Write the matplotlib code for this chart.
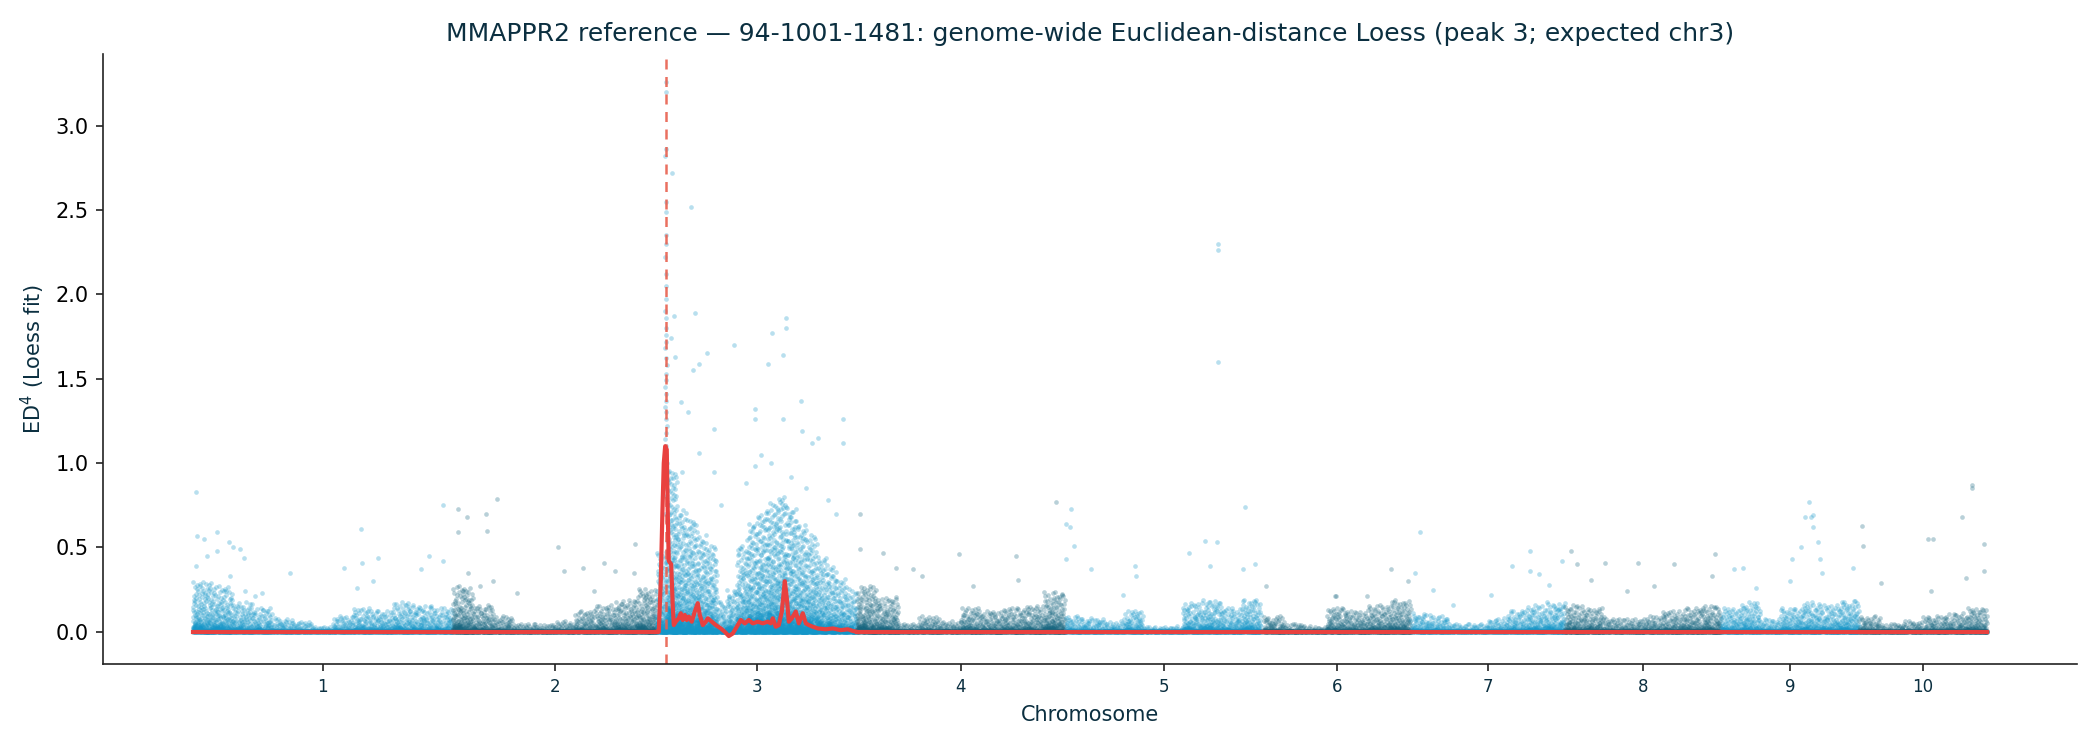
import numpy as np
import matplotlib
matplotlib.use("Agg")
import matplotlib.pyplot as plt

# ---------------- data ----------------
chrom_labels = ["1", "2", "3", "4", "5", "6", "7", "8", "9", "10"]
chrom_len_mb = [65.0, 51.0, 50.0, 52.0, 49.5, 37.0, 38.5, 39.0, 34.5, 32.0]
chrom_data_end_mb = [65.0, 51.0, 50.0, 52.0, 49.0, 37.0, 38.5, 39.0, 34.5, 32.0]

# upper edge of the dense SNP band, per equal-width bin along each chromosome
band_chr1 = [0.19, 0.17, 0.11, 0.09, 0.05, 0.04, 0.02, 0.06, 0.09, 0.08, 0.11, 0.10, 0.09]
band_chr2 = [0.17, 0.10, 0.06, 0.03, 0.03, 0.04, 0.08, 0.10, 0.12, 0.16]
band_chr3 = [0.30, 0.60, 0.45, 0.42, 0.36, 0.32, 0.12, 0.16, 0.32, 0.40,
             0.44, 0.48, 0.50, 0.46, 0.40, 0.36, 0.28, 0.24, 0.20, 0.16]
band_chr4 = [0.17, 0.13, 0.03, 0.06, 0.04, 0.09, 0.08, 0.09, 0.10, 0.15]
band_chr5 = [0.06, 0.05, 0.04, 0.08, 0.02, 0.02, 0.11, 0.12, 0.09, 0.12]
band_chr6 = [0.06, 0.03, 0.02, 0.09, 0.08, 0.10, 0.12]
band_chr7 = [0.07, 0.06, 0.03, 0.03, 0.05, 0.08, 0.10, 0.11]
band_chr8 = [0.10, 0.09, 0.05, 0.05, 0.06, 0.08, 0.09, 0.10]
band_chr9 = [0.09, 0.11, 0.05, 0.09, 0.11, 0.10, 0.12]
band_chr10 = [0.06, 0.03, 0.04, 0.06, 0.07, 0.09]

# tall column of SNPs at the chr3 peak (position in Mb on chr3, ED^4)
peak_col_pos = [2.2, 2.3, 2.25, 2.15, 2.3, 2.2, 2.35, 2.25, 2.1, 2.3,
                2.2, 2.4, 2.15, 2.3, 2.25, 2.35, 2.2, 2.1, 2.3, 2.45,
                2.2, 2.3, 2.15, 2.4, 2.25, 2.05, 2.35, 2.2, 2.5, 2.3,
                2.1, 2.4, 2.25, 2.6, 2.2, 2.45, 2.0, 2.35, 2.7, 2.15]
peak_col_ed = [3.26, 3.20, 2.86, 2.82, 2.55, 2.49, 2.35, 2.30, 2.22, 2.12,
               2.05, 1.97, 1.90, 1.86, 1.80, 1.76, 1.72, 1.68, 1.62, 1.58,
               1.53, 1.49, 1.45, 1.41, 1.37, 1.33, 1.30, 1.26, 1.22, 1.18,
               1.14, 1.10, 1.05, 1.00, 0.95, 0.90, 0.85, 0.80, 0.75, 0.70]

# isolated SNPs above the dense band
outlier_chrom = ([1] * 26 + [2] * 19 + [3] * 39 + [4] * 11 + [5] * 19 + [6] * 6
                 + [7] * 11 + [8] * 10 + [9] * 15 + [10] * 12)
outlier_pos = [
    # chr1
    0.9, 1.0, 2.9, 6.0, 6.0, 3.5, 9.0, 10.2, 11.75, 12.75, 0.75, 9.4, 13.0,
    15.5, 17.4, 24.25, 42.0, 37.75, 42.4, 46.25, 45.0, 41.2, 57.1, 59.0, 62.5, 62.5,
    # chr2
    1.25, 1.25, 3.5, 8.25, 11.0, 8.5, 3.75, 6.75, 10.0, 16.1, 26.4, 27.75, 32.5,
    35.25, 37.75, 40.5, 45.5, 45.4, 48.4,
    # chr3
    3.75, 8.5, 9.5, 4.25, 3.5, 4.5, 12.5, 10.5, 9.0, 19.25, 32.25, 32.25, 28.75,
    31.5, 27.75, 6.0, 7.75, 14.25, 24.5, 24.5, 31.5, 36.0, 46.5, 46.5, 36.25,
    38.75, 40.25, 24.5, 26.0, 10.5, 14.25, 42.75, 6.25, 22.25, 33.5, 37.25, 28.5,
    16.0, 44.75,
    # chr4
    0.75, 0.75, 6.5, 9.75, 14.0, 16.25, 25.5, 29.0, 39.75, 40.25, 49.75,
    # chr5
    0.25, 1.25, 1.5, 2.25, 0.25, 6.5, 14.5, 17.5, 17.75, 31.0, 35.0, 38.0, 36.25,
    38.25, 38.25, 38.25, 45.0, 44.5, 47.5,
    # chr6
    0.75, 18.0, 18.25, 26.0, 32.0, 36.25,
    # chr7
    1.0, 2.25, 5.5, 10.5, 20.0, 25.25, 29.75, 29.75, 32.0, 34.5, 37.75,
    # chr8
    1.5, 3.0, 6.5, 10.0, 15.5, 18.25, 22.25, 27.25, 36.75, 37.5,
    # chr9
    3.25, 5.5, 8.75, 17.25, 17.75, 20.0, 21.0, 22.0, 22.5, 23.0, 23.0, 24.25,
    24.75, 25.25, 33.0,
    # chr10
    0.75, 1.0, 5.5, 17.25, 18.5, 18.0, 25.75, 26.75, 28.25, 28.25, 31.25, 31.25,
]
outlier_ed = [
    # chr1
    0.83, 0.57, 0.55, 0.59, 0.48, 0.45, 0.53, 0.50, 0.49, 0.44, 0.39, 0.33, 0.24,
    0.21, 0.23, 0.35, 0.61, 0.38, 0.41, 0.44, 0.30, 0.26, 0.37, 0.45, 0.75, 0.42,
    # chr2
    0.73, 0.59, 0.68, 0.70, 0.79, 0.60, 0.35, 0.27, 0.30, 0.23, 0.50, 0.36, 0.38,
    0.24, 0.41, 0.36, 0.52, 0.35, 0.21,
    # chr3
    2.72, 2.52, 1.89, 1.87, 1.74, 1.63, 1.65, 1.59, 1.55, 1.70, 1.86, 1.80, 1.77,
    1.64, 1.59, 1.36, 1.30, 1.20, 1.32, 1.26, 1.26, 1.37, 1.26, 1.12, 1.19,
    1.12, 1.15, 0.98, 1.05, 1.06, 0.95, 0.78, 0.95, 0.88, 0.92, 0.85, 1.00,
    0.75, 0.70,
    # chr4
    0.70, 0.49, 0.47, 0.38, 0.37, 0.33, 0.46, 0.27, 0.45, 0.31, 0.77,
    # chr5
    0.64, 0.62, 0.73, 0.51, 0.43, 0.37, 0.22, 0.39, 0.33, 0.47, 0.54, 0.53, 0.39,
    2.30, 2.26, 1.60, 0.74, 0.37, 0.40,
    # chr6
    0.27, 0.21, 0.21, 0.21, 0.37, 0.30,
    # chr7
    0.35, 0.59, 0.25, 0.16, 0.22, 0.39, 0.36, 0.48, 0.34, 0.28, 0.42,
    # chr8
    0.48, 0.40, 0.31, 0.41, 0.24, 0.41, 0.27, 0.40, 0.33, 0.46,
    # chr9
    0.37, 0.38, 0.26, 0.30, 0.43, 0.50, 0.68, 0.77, 0.68, 0.69, 0.62, 0.53,
    0.43, 0.35, 0.38,
    # chr10
    0.63, 0.51, 0.29, 0.55, 0.55, 0.24, 0.68, 0.32, 0.87, 0.85, 0.52, 0.36,
]

# Loess fit on chr3 (Mb on chr3, fitted ED^4); other chromosomes fit ~0
loess_chr3_pos = [0, 0.5, 1.0, 1.4, 1.75, 2.1, 2.5, 2.75, 3.0, 3.6, 4.0, 4.25, 4.75,
                  5.5, 6.0, 6.5, 7.0, 7.5, 8.0, 8.75, 9.5, 10.25, 10.75, 11.5, 12.25,
                  12.75, 13.75, 14.75, 16.0, 17.0, 18.0, 19.0, 20.0, 21.0, 22.0, 23.0,
                  24.0, 25.25, 26.5, 27.75, 28.5, 29.0, 29.75, 30.5, 31.25, 32.0, 32.5,
                  33.0, 33.75, 34.75, 35.5, 36.5, 37.25, 38.0, 39.0, 40.25, 42.25, 44.0,
                  46.0, 47.75, 49.0, 50.0]
loess_chr3_ed = [0.0, 0.0, 0.3, 0.7, 1.0, 1.1, 1.08, 0.7, 0.42, 0.40, 0.15, 0.04, 0.06,
                 0.08, 0.11, 0.07, 0.10, 0.07, 0.09, 0.06, 0.12, 0.17, 0.10, 0.04, 0.06,
                 0.08, 0.06, 0.04, 0.02, 0.0, -0.025, -0.01, 0.03, 0.07, 0.05, 0.07,
                 0.05, 0.06, 0.05, 0.06, 0.05, 0.08, 0.03, 0.04, 0.12, 0.30, 0.20,
                 0.06, 0.08, 0.12, 0.05, 0.11, 0.05, 0.04, 0.03, 0.02, 0.015, 0.02,
                 0.01, 0.015, 0.005, 0.0]
loess_other_ed = 0.0

peak_chrom = 3
peak_pos_mb = 2.3

# ---------------- styling ----------------
NAVY = "#0b2f40"
BLUE = "#1496c8"
DARK = "#15657f"
RED = "#e8413f"

bands = [band_chr1, band_chr2, band_chr3, band_chr4, band_chr5,
         band_chr6, band_chr7, band_chr8, band_chr9, band_chr10]
offsets = np.concatenate([[0.0], np.cumsum(chrom_len_mb)[:-1]])
mid_ticks = offsets + np.array(chrom_len_mb) / 2.0


def halton(idx, base):
    out = np.zeros(len(idx))
    for k, i in enumerate(idx):
        f, r = 1.0, 0.0
        i = int(i)
        while i > 0:
            f /= base
            r += f * (i % base)
            i //= base
        out[k] = r
    return out


fig = plt.figure(figsize=(14, 5), dpi=150)
ax = fig.add_axes([0.049, 0.115, 0.940, 0.813])

counter = 1
for c in range(10):
    col = BLUE if c % 2 == 0 else DARK
    band = bands[c]
    end = chrom_data_end_mb[c]
    w = end / len(band)
    xs, ys = [], []
    for b, h in enumerate(band):
        n = int(round((w / 5.0) * (25 + 1000 * h)))
        idx = np.arange(counter, counter + n)
        counter += n
        u = halton(idx, 2)
        v = halton(idx, 3)
        # most SNPs packed near the bottom of the band, every 6th in a sparser tail
        tail = (idx % 6 == 0)
        y = np.where(tail, 2.2 * h * v ** 2, 1.6 * h * v ** 3)
        xs.append(offsets[c] + b * w + u * w)
        ys.append(y)
    # baseline SNPs sitting at ~0 along the chromosome
    nb = int(end * 10)
    idx = np.arange(counter, counter + nb)
    counter += nb
    xs.append(offsets[c] + halton(idx, 2) * end)
    ys.append(0.004 * halton(idx, 3))
    sel = [i for i, ch in enumerate(outlier_chrom) if ch == c + 1]
    xs.append(offsets[c] + np.array([outlier_pos[i] for i in sel]))
    ys.append(np.array([outlier_ed[i] for i in sel]))
    if c + 1 == peak_chrom:
        xs.append(offsets[c] + np.array(peak_col_pos))
        ys.append(np.array(peak_col_ed))
    ax.scatter(np.concatenate(xs), np.concatenate(ys), s=5, color=col,
               alpha=0.3, linewidths=0, zorder=1, rasterized=True)

# Loess lines, one per chromosome
for c in range(10):
    if c + 1 == 3:
        lx = offsets[c] + np.array(loess_chr3_pos)
        ly = np.array(loess_chr3_ed)
    else:
        lx = offsets[c] + np.array([0.0, chrom_data_end_mb[c]])
        ly = np.array([loess_other_ed, loess_other_ed])
    ax.plot(lx, ly, color=RED, lw=2.0, zorder=3, solid_joinstyle="round")

ax.axvline(offsets[peak_chrom - 1] + peak_pos_mb, color="#e8604f", lw=1.2,
           ls=(0, (4, 3)), alpha=0.9, zorder=2)

ax.set_xticks(mid_ticks)
ax.set_xticklabels(chrom_labels)
ax.tick_params(axis="x", labelsize=8, labelcolor=NAVY, colors="#222222")
ax.tick_params(axis="y", labelsize=10, labelcolor="black", colors="#222222")
ax.set_yticks([0.0, 0.5, 1.0, 1.5, 2.0, 2.5, 3.0])
for side in ("top", "right"):
    ax.spines[side].set_visible(False)
for side in ("left", "bottom"):
    ax.spines[side].set_color("#222222")

ax.set_xlabel("Chromosome", fontsize=10, color=NAVY)
ax.set_ylabel("ED$^{4}$ (Loess fit)", fontsize=10, color=NAVY)
ax.set_title("MMAPPR2 reference \u2014 94-1001-1481: genome-wide Euclidean-distance "
             "Loess (peak 3; expected chr3)", fontsize=12, color=NAVY)

fig.savefig("out.png", dpi=150)
